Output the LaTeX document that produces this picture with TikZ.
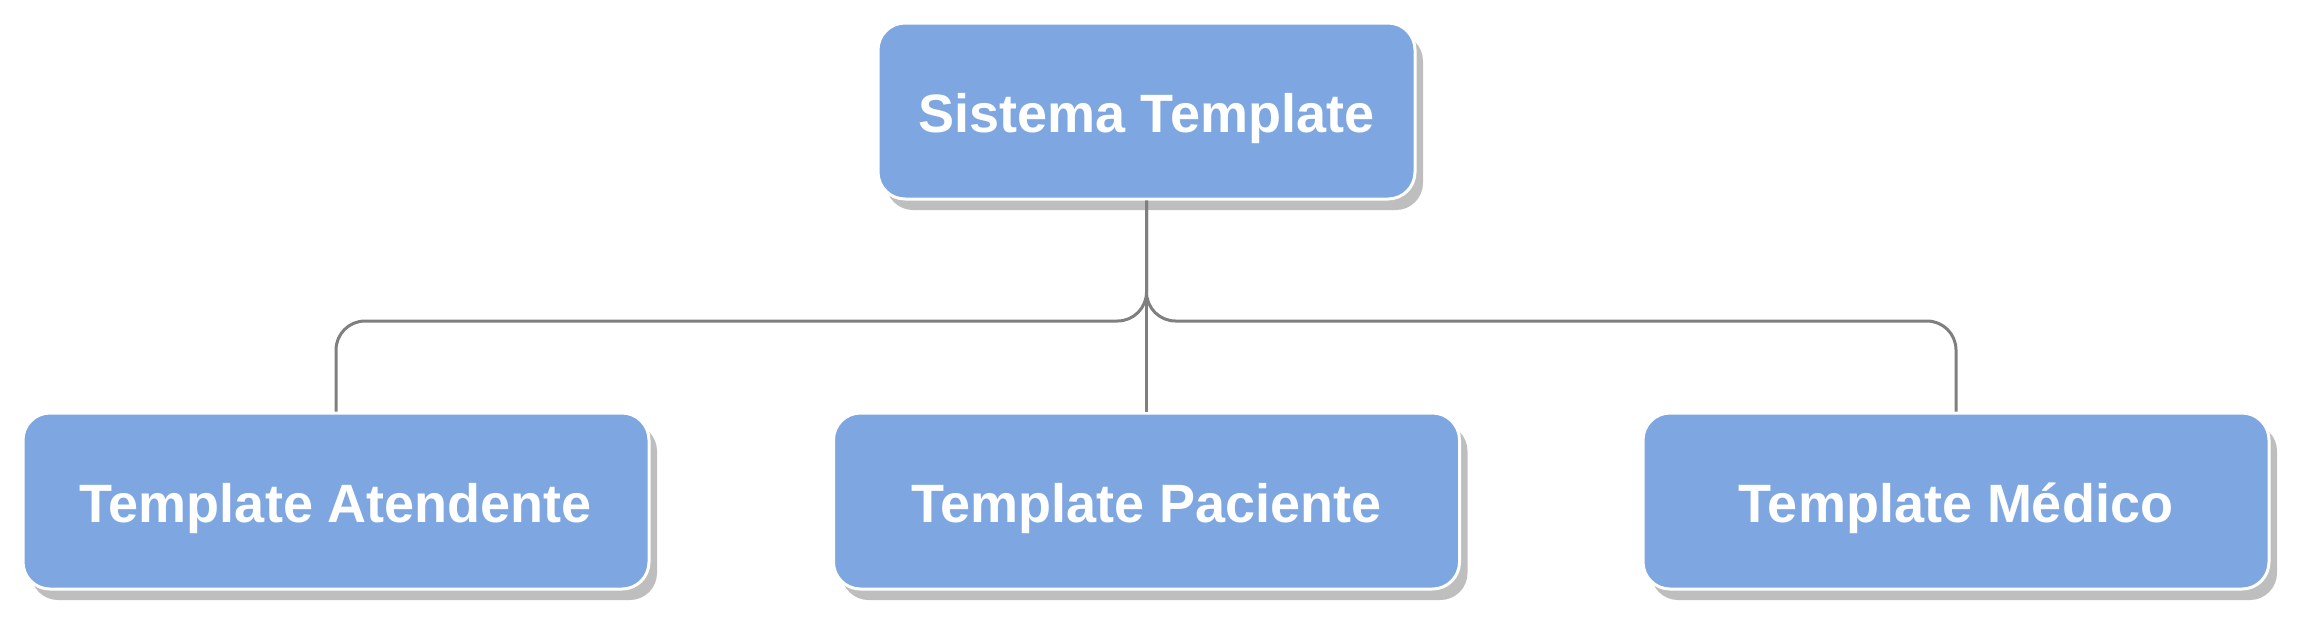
\documentclass[tikz,border=0pt]{standalone}
\usepackage{fontspec}
\setmainfont{Liberation Sans}
\usetikzlibrary{shadows}
\definecolor{boxblue}{HTML}{7EA6E0}
\definecolor{shadowgray}{HTML}{BEBEBE}
\definecolor{linegray}{HTML}{7F7F7F}
\begin{document}
\begin{tikzpicture}[x=1pt,y=-1pt,
  boxstyle/.style={rectangle, rounded corners=27pt, fill=boxblue, draw=white, line width=3pt,
    text=white, font=\bfseries\fontsize{54}{60}\selectfont, minimum height=176pt, inner sep=0pt,
    text depth=0pt, text height=42pt,
    drop shadow={shadow xshift=8pt, shadow yshift=-11pt, fill=shadowgray, opacity=1}},
  topbox/.style={boxstyle, minimum width=537pt},
  childbox/.style={boxstyle, minimum width=626pt},
  link/.style={draw=linegray, line width=3pt, rounded corners=29pt}]
\useasboundingbox (0,0) rectangle (2299,622);
\node[topbox] (top) at (1146.5,111) {Sistema Template};
\node[childbox] (att) at (336,501) {Template Atendente};
\node[childbox] (pac) at (1146.5,501) {Template Paciente};
\node[childbox] (med) at (1956,501) {Template Médico};
\coordinate (bar) at (1146.5,321);
\draw[link] (top.south) -- (top.south |- bar) -- (att.north |- bar) -- (att.north);
\draw[link] (top.south) -- (top.south |- bar) -- (med.north |- bar) -- (med.north);
\draw[link] (top.south) -- (pac.north);
\end{tikzpicture}
\end{document}
